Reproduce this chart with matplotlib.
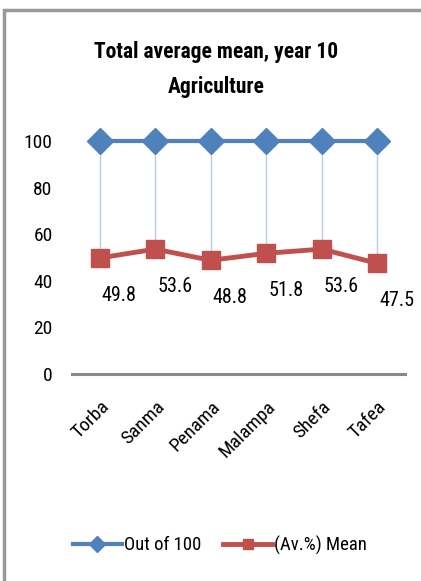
import matplotlib
matplotlib.use("Agg")
import matplotlib.pyplot as plt
from matplotlib.patches import Rectangle

plt.rcParams['font.family'] = ['Liberation Sans Narrow', 'Roboto Condensed', 'Lato', 'DejaVu Sans']

provinces = ["Torba", "Sanma", "Penama", "Malampa", "Shefa", "Tafea"]
out_of = [100, 100, 100, 100, 100, 100]
mean_pct = [49.8, 53.6, 48.8, 51.8, 53.6, 47.5]
yticks = [0, 20, 40, 60, 80, 100]

blue = '#4F81BD'
red = '#C0504D'

fig = plt.figure(figsize=(4.21, 5.81), dpi=100)
ax = fig.add_axes([72 / 421, 207 / 581, 333 / 421, 233 / 581])

x = list(range(len(provinces)))

# high-low lines between the two series
ax.vlines(x, mean_pct, out_of, color='#B9CBE6', linewidth=1.0, zorder=1)

ax.plot(x, out_of, color=blue, linewidth=3, marker='D', markersize=13,
        label='Out of 100', clip_on=False, zorder=3)
ax.plot(x, mean_pct, color=red, linewidth=3.5, marker='s', markersize=13,
        label='(Av.%) Mean', clip_on=False, zorder=3)

for xi, v in zip(x, mean_pct):
    ax.annotate(f"{v}", (xi, v), xytext=(14, -27), textcoords='offset points',
                ha='center', va='center', fontsize=14.5)

ax.set_xlim(-0.5, len(provinces) - 0.5)
ax.set_ylim(0, 100)
ax.set_yticks(yticks)
ax.set_yticklabels([str(t) for t in yticks], fontsize=14)
ax.set_xticks(x)
ax.set_xticklabels(provinces, rotation=45, ha='right', va='top',
                   rotation_mode='anchor', fontsize=14)
ax.tick_params(axis='y', length=0, pad=14)
ax.tick_params(axis='x', length=0, pad=17)

for side in ['top', 'right', 'left']:
    ax.spines[side].set_visible(False)
ax.spines['bottom'].set_color('#888888')
ax.spines['bottom'].set_linewidth(2.2)

fig.text(216 / 421, 1 - 52 / 581, "Total average mean, year 10", ha='center', va='center',
         fontsize=15.5, fontweight='bold')
fig.text(216 / 421, 1 - 87 / 581, "Agriculture", ha='center', va='center',
         fontsize=15.5, fontweight='bold')

fig.legend(loc='center', bbox_to_anchor=(220 / 421, 1 - 545 / 581), ncol=2,
           frameon=False, fontsize=13.5, handlelength=2.6, handletextpad=0.1,
           columnspacing=1.2, markerscale=0.6)

fig.patches.append(Rectangle((4 / 421, -0.1), 1.2, 1 - 10 / 581 + 0.1,
                             transform=fig.transFigure, fill=False,
                             edgecolor='#999999', linewidth=2.5))

fig.savefig("out.png", dpi=100)
